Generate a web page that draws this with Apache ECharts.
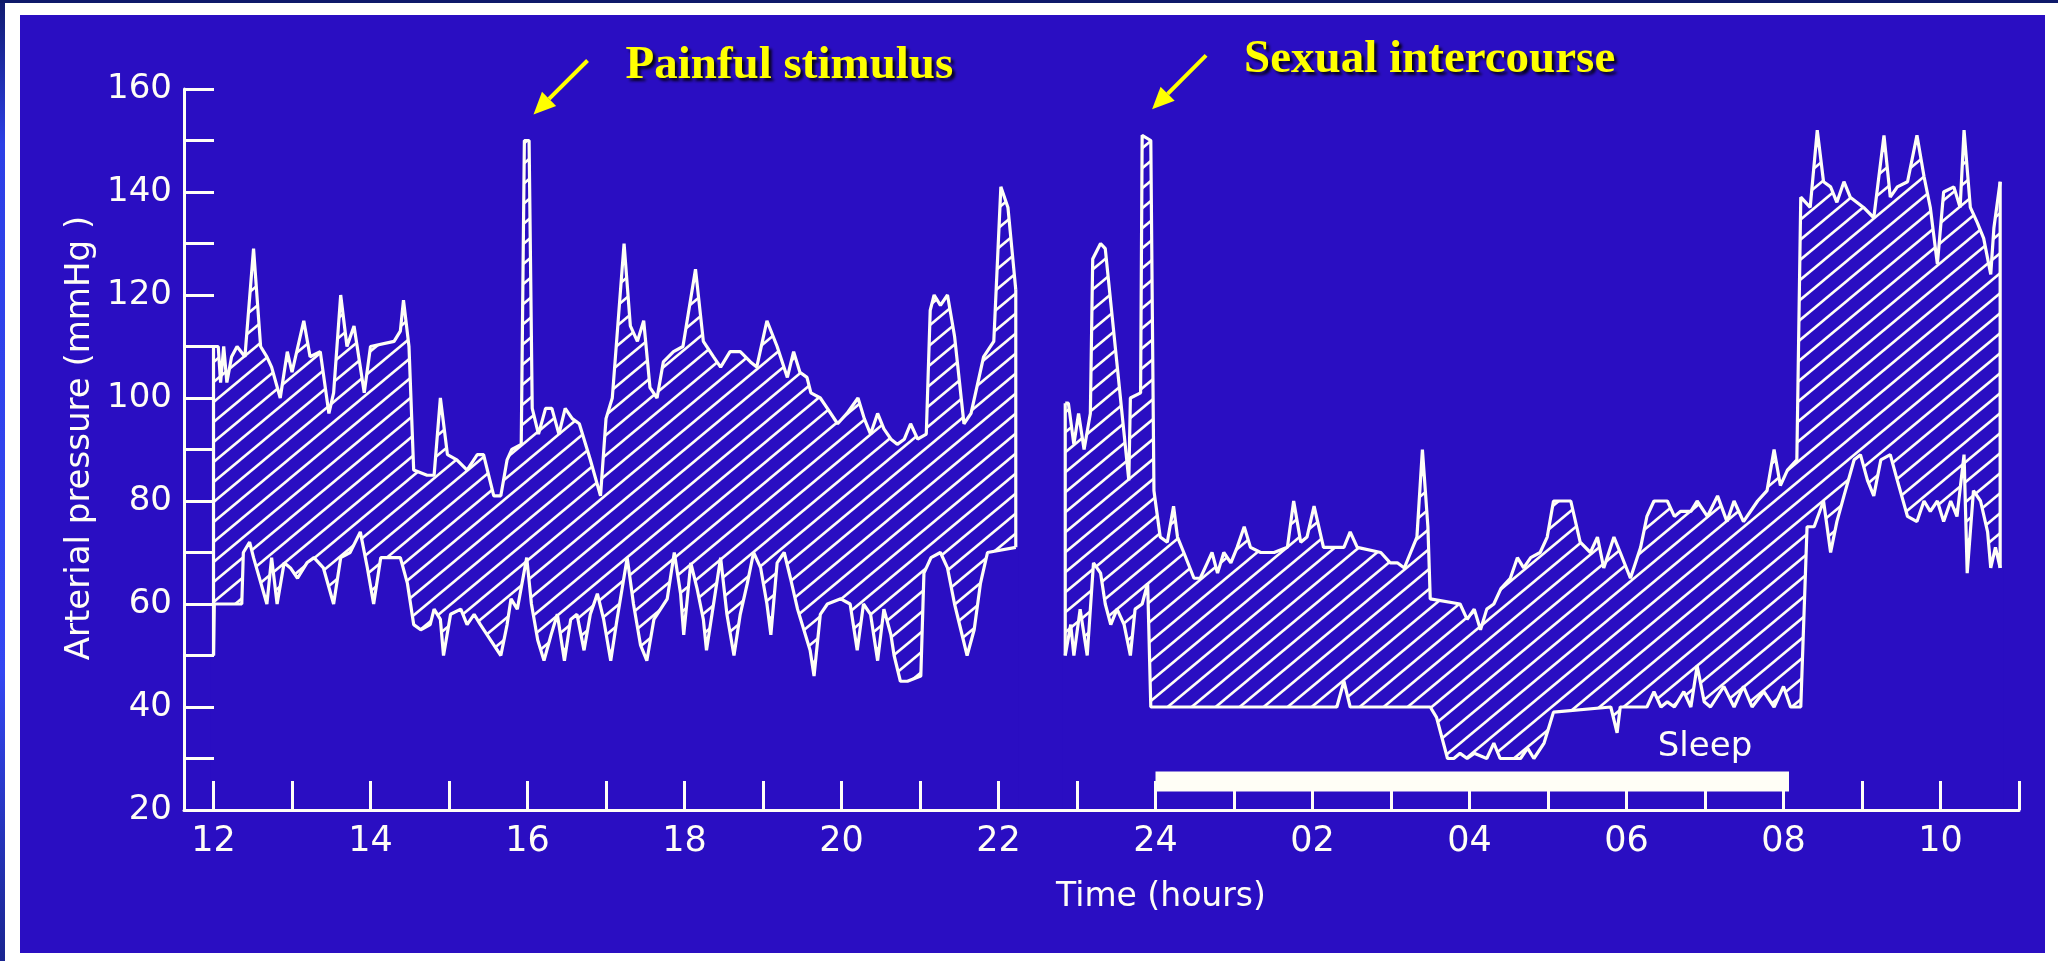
<!DOCTYPE html>
<html>
<head>
<meta charset="utf-8">
<title>Arterial pressure, 24 hour record</title>
<script src="https://cdn.jsdelivr.net/npm/echarts@6/dist/echarts.min.js"></script>
<style>
  html, body { margin: 0; padding: 0; background: #fff; }
  #chart { width: 2058px; height: 961px; }
</style>
</head>
<body>
<div id="chart"></div>
<script>
// readings are [hour, mmHg]; hours past 24 belong to the next morning
const sysDay = [
  [12.00, 110], [12.06, 110], [12.09, 103], [12.13, 110], [12.17, 103], [12.23, 108], [12.30, 110],
  [12.40, 108], [12.51, 129], [12.60, 110], [12.68, 108], [12.74, 106], [12.85, 100], [12.94, 109],
  [13.00, 105], [13.15, 115], [13.23, 108], [13.36, 109], [13.47, 97], [13.53, 101], [13.62, 120],
  [13.70, 110], [13.79, 114], [13.92, 101], [14.00, 110], [14.30, 111], [14.38, 113], [14.42, 119],
  [14.49, 110], [14.55, 86], [14.72, 85], [14.81, 85], [14.89, 100], [14.98, 89], [15.10, 88],
  [15.23, 86], [15.36, 89], [15.44, 89], [15.57, 81], [15.66, 81], [15.74, 88], [15.80, 90],
  [15.92, 91], [15.96, 150], [16.02, 150], [16.06, 98], [16.14, 93], [16.23, 98], [16.31, 98],
  [16.40, 93], [16.48, 98], [16.57, 96], [16.66, 95], [16.80, 88], [16.93, 81], [17.00, 96],
  [17.08, 100], [17.23, 130], [17.31, 114], [17.40, 111], [17.48, 115], [17.56, 102], [17.65, 100],
  [17.73, 107], [17.86, 109], [17.98, 110], [18.14, 125], [18.24, 111], [18.37, 108], [18.46, 106],
  [18.58, 109], [18.71, 109], [18.84, 107], [18.92, 106], [19.05, 115], [19.18, 110], [19.31, 104],
  [19.39, 109], [19.47, 105], [19.56, 104], [19.61, 101], [19.73, 100], [19.82, 98], [19.95, 95],
  [20.07, 97], [20.21, 100], [20.29, 96], [20.37, 93], [20.46, 97], [20.54, 94], [20.63, 92],
  [20.71, 91], [20.80, 92], [20.88, 95], [20.97, 92], [21.08, 93], [21.13, 117], [21.18, 120],
  [21.26, 118], [21.35, 120], [21.44, 112], [21.56, 95], [21.65, 97], [21.81, 108], [21.94, 111],
  [22.03, 141], [22.12, 137], [22.22, 121]
]
const diaDay = [
  [12.00, 50], [12.01, 60], [12.36, 60], [12.38, 70], [12.46, 72], [12.51, 69], [12.68, 60],
  [12.74, 69], [12.81, 60], [12.90, 68], [12.98, 67], [13.07, 65], [13.19, 68], [13.28, 69],
  [13.40, 67], [13.53, 60], [13.62, 69], [13.74, 70], [13.87, 74], [13.96, 67], [14.04, 60],
  [14.13, 69], [14.38, 69], [14.47, 64], [14.55, 56], [14.64, 55], [14.76, 56], [14.81, 59],
  [14.89, 57], [14.93, 50], [15.02, 58], [15.15, 59], [15.23, 56], [15.32, 58], [15.40, 56],
  [15.53, 53], [15.66, 50], [15.74, 56], [15.79, 61], [15.87, 59], [15.99, 69], [16.05, 60],
  [16.13, 53], [16.21, 49], [16.30, 54], [16.38, 58], [16.47, 49], [16.55, 57], [16.63, 58],
  [16.72, 51], [16.80, 58], [16.89, 62], [16.97, 57], [17.06, 49], [17.14, 57], [17.27, 69],
  [17.35, 60], [17.44, 52], [17.52, 49], [17.61, 57], [17.78, 61], [17.87, 70], [17.95, 62],
  [17.99, 54], [18.08, 68], [18.16, 63], [18.24, 57], [18.28, 51], [18.37, 60], [18.46, 69],
  [18.54, 58], [18.63, 50], [18.71, 58], [18.80, 64], [18.88, 70], [18.97, 67], [19.05, 60],
  [19.10, 54], [19.18, 68], [19.27, 70], [19.35, 65], [19.44, 59], [19.56, 53], [19.60, 51],
  [19.65, 46], [19.73, 58], [19.82, 60], [19.99, 61], [20.11, 60], [20.20, 51], [20.28, 60],
  [20.37, 58], [20.46, 49], [20.54, 59], [20.63, 54], [20.67, 50], [20.75, 45], [20.84, 45],
  [21.01, 46], [21.05, 66], [21.14, 69], [21.26, 70], [21.35, 67], [21.44, 60], [21.52, 55],
  [21.60, 50], [21.69, 55], [21.77, 64], [21.86, 70], [22.22, 71]
]
const sysNight = [
  [22.85, 99], [22.89, 99], [22.96, 91], [23.02, 97], [23.09, 90], [23.17, 97], [23.20, 127],
  [23.30, 130], [23.36, 129], [23.66, 84], [23.68, 100], [23.81, 101], [23.83, 151], [23.94, 150],
  [23.98, 82], [24.06, 73], [24.15, 72], [24.23, 79], [24.28, 73], [24.36, 70], [24.49, 65],
  [24.57, 65], [24.66, 68], [24.72, 70], [24.79, 66], [24.87, 70], [24.96, 68], [25.04, 71],
  [25.13, 75], [25.21, 71], [25.34, 70], [25.51, 70], [25.68, 71], [25.76, 80], [25.85, 72],
  [25.93, 73], [26.02, 79], [26.14, 71], [26.40, 71], [26.48, 74], [26.57, 71], [26.87, 70],
  [26.99, 68], [27.08, 68], [27.17, 67], [27.25, 70], [27.33, 73], [27.40, 90], [27.47, 75],
  [27.50, 61], [27.88, 60], [27.97, 57], [28.06, 59], [28.14, 55], [28.22, 59], [28.31, 60],
  [28.40, 63], [28.52, 65], [28.61, 69], [28.69, 67], [28.78, 69], [28.90, 70], [28.99, 73],
  [29.07, 80], [29.29, 80], [29.41, 72], [29.54, 70], [29.63, 73], [29.71, 67], [29.84, 73],
  [29.92, 70], [30.05, 65], [30.18, 71], [30.26, 77], [30.35, 80], [30.52, 80], [30.61, 77],
  [30.69, 78], [30.82, 78], [30.90, 80], [31.03, 77], [31.16, 81], [31.28, 76], [31.37, 80],
  [31.49, 76], [31.67, 80], [31.79, 82], [31.88, 90], [31.96, 83], [32.05, 86], [32.17, 88],
  [32.22, 139], [32.34, 137], [32.43, 152], [32.51, 142], [32.60, 141], [32.68, 138], [32.77, 142],
  [32.85, 139], [33.02, 137], [33.15, 135], [33.28, 151], [33.36, 139], [33.45, 141], [33.58, 142],
  [33.70, 151], [33.79, 143], [33.87, 137], [33.96, 126], [34.04, 140], [34.17, 141], [34.25, 137],
  [34.30, 152], [34.38, 137], [34.47, 134], [34.55, 131], [34.64, 124], [34.68, 133], [34.76, 142]
]
const diaNight = [
  [22.85, 50], [22.92, 56], [22.96, 50], [23.04, 59], [23.13, 50], [23.21, 68], [23.30, 66],
  [23.36, 60], [23.43, 56], [23.51, 59], [23.60, 56], [23.68, 50], [23.74, 59], [23.83, 60],
  [23.90, 64], [23.94, 40], [26.31, 40], [26.40, 45], [26.48, 40], [27.50, 40], [27.58, 38],
  [27.72, 30], [27.80, 30], [27.88, 31], [27.97, 30], [28.06, 31], [28.22, 30], [28.31, 33],
  [28.39, 30], [28.65, 30], [28.74, 32], [28.82, 30], [28.95, 33], [29.07, 39], [29.80, 40],
  [29.88, 35], [29.92, 40], [30.26, 40], [30.35, 43], [30.44, 40], [30.52, 41], [30.61, 40],
  [30.73, 43], [30.82, 40], [30.90, 48], [30.99, 41], [31.07, 40], [31.24, 44], [31.37, 40],
  [31.49, 44], [31.60, 40], [31.75, 43], [31.88, 40], [32.00, 44], [32.09, 40], [32.22, 40],
  [32.30, 75], [32.39, 75], [32.51, 80], [32.60, 70], [32.68, 76], [32.77, 81], [32.90, 88],
  [32.98, 89], [33.07, 84], [33.15, 81], [33.24, 88], [33.36, 89], [33.45, 84], [33.58, 77],
  [33.70, 76], [33.79, 80], [33.87, 78], [33.96, 80], [34.04, 76], [34.13, 80], [34.21, 77],
  [34.30, 89], [34.34, 66], [34.42, 82], [34.51, 80], [34.60, 74], [34.64, 67], [34.70, 71],
  [34.76, 67]
]

const tickHours = [12, 13, 14, 15, 16, 17, 18, 19, 20, 21, 22, 23, 24, 25, 26, 27, 28, 29, 30, 31, 32, 33, 34, 35]
const labelHours = [12, 14, 16, 18, 20, 22, 24, 26, 28, 30, 32, 34]
const hourLabels = ['12', '14', '16', '18', '20', '22', '24', '02', '04', '06', '08', '10']
const pressureLabels = [20, 40, 60, 80, 100, 120, 140, 160]

const sleepSpan = [24, 32.07]
const events = [
  { name: 'Painful stimulus', hour: 16.0, value: 150 },
  { name: 'Sexual intercourse', hour: 23.88, value: 151 }
]

const panelBlue = '#2a0ec2'
const white = '#fffef6'
const yellow = '#ffff00'
const sans = '"DejaVu Sans", sans-serif'

// diagonal hatching used between the two pressure traces
function hatch() {
  const c = document.createElement('canvas')
  c.width = 24
  c.height = 20
  const ctx = c.getContext('2d')
  ctx.strokeStyle = white
  ctx.lineWidth = 2.6
  for (let n = -1; n <= 2; n++) {
    ctx.beginPath()
    ctx.moveTo(n * 24 + 6, -5)
    ctx.lineTo(n * 24 - 30, 25)
    ctx.stroke()
  }
  return c
}
const hatchFill = { image: hatch(), repeat: 'repeat' }

function traceSeries(sys, dia) {
  const first = sys[0][0]
  const last = sys[sys.length - 1][0]
  const line = { color: white, width: 3.2 }
  // the mask reaches a little past both ends so no hatch leaks at the edges
  const mask = [[first - 0.04, dia[0][1]], ...dia, [last + 0.04, dia[dia.length - 1][1]]]
  return [
    // systolic: hatched down to the axis, the diastolic mask hides what is below it
    { type: 'line', data: sys, z: 2, showSymbol: false, lineStyle: line,
      areaStyle: { origin: 'start', color: hatchFill, opacity: 1 } },
    { type: 'line', data: mask, z: 3, showSymbol: false, lineStyle: { width: 0 },
      areaStyle: { origin: 'start', color: panelBlue, opacity: 1 } },
    { type: 'line', data: dia, z: 4, showSymbol: false, lineStyle: line },
    { type: 'line', data: [[first, dia[0][1]], [first, sys[0][1]]], z: 4, showSymbol: false, lineStyle: line },
    { type: 'line', data: [[last, dia[dia.length - 1][1]], [last, sys[sys.length - 1][1]]], z: 4, showSymbol: false, lineStyle: line }
  ]
}

const chart = echarts.init(document.getElementById('chart'))

chart.setOption({
  animation: false,
  backgroundColor: '#ffffff',
  grid: { left: 184, top: 89, width: 1835, height: 721, containLabel: false, outerBoundsMode: 'none' },
  xAxis: {
    type: 'value',
    min: 11.624,
    max: 35,
    z: 6,
    axisLine: { show: true, onZero: false, lineStyle: { color: white, width: 3 } },
    axisTick: { show: true, inside: true, length: 29, customValues: tickHours, lineStyle: { color: white, width: 3 } },
    axisLabel: {
      customValues: labelHours,
      formatter: (v) => hourLabels[labelHours.indexOf(v)],
      color: white, fontFamily: sans, fontSize: 35, margin: 14
    },
    splitLine: { show: false }
  },
  yAxis: {
    type: 'value',
    min: 20,
    max: 160,
    interval: 10,
    z: 6,
    axisLine: { show: true, lineStyle: { color: white, width: 3 } },
    axisTick: { show: true, inside: true, length: 30, lineStyle: { color: white, width: 3 } },
    axisLabel: { customValues: pressureLabels, color: white, fontFamily: sans, fontSize: 34, margin: 12 },
    splitLine: { show: false }
  },
  graphic: [
    { id: 'panel', type: 'rect', z: -2, shape: { x: 20, y: 15, width: 2025, height: 938 }, style: { fill: panelBlue } },
    { id: 'edge-left', type: 'rect', z: -2, shape: { x: 0, y: 0, width: 5, height: 961 },
      style: { fill: new echarts.graphic.LinearGradient(0, 0, 0, 1, [
        { offset: 0, color: '#101a6e' }, { offset: 0.15, color: '#2c3fe6' },
        { offset: 0.7, color: '#3346f2' }, { offset: 1, color: '#1a2590' }]) } },
    { id: 'edge-top', type: 'rect', z: -2, shape: { x: 0, y: 0, width: 2058, height: 3 }, style: { fill: '#0e196a' } },
    { id: 'x-name', type: 'text', z: 6, x: 1161, y: 897,
      style: { text: 'Time (hours)', fill: white, font: '33px ' + sans, textAlign: 'center', textVerticalAlign: 'middle' } },
    { id: 'y-name', type: 'text', z: 6, x: 80, y: 438, rotation: Math.PI / 2,
      style: { text: 'Arterial pressure (mmHg )', fill: white, font: '34px ' + sans, textAlign: 'center', textVerticalAlign: 'middle' } }
  ],
  series: [
    ...traceSeries(sysDay, diaDay),
    ...traceSeries(sysNight, diaNight),
    {
      type: 'custom',
      z: 5,
      data: [sleepSpan],
      renderItem: (params, api) => {
        const a = api.coord([api.value(0), 27.5])
        const b = api.coord([api.value(1), 23.6])
        const t = api.coord([31.0, 32.2])
        return {
          type: 'group',
          children: [
            { type: 'rect', shape: { x: a[0], y: a[1], width: b[0] - a[0], height: b[1] - a[1] }, style: { fill: white } },
            { type: 'text', x: t[0], y: t[1],
              style: { text: 'Sleep', fill: white, font: '34px ' + sans, textAlign: 'center', textVerticalAlign: 'middle' } }
          ]
        }
      }
    }
  ]
})

// yellow arrows and captions pointing at the two spikes
const notes = []
events.forEach((ev, i) => {
  const p = chart.convertToPixel({ gridIndex: 0 }, [ev.hour, ev.value])
  const tip = [p[0] + 6, p[1] - 26]
  const tail = [p[0] + 60, p[1] - 80]
  const dx = tip[0] - tail[0]
  const dy = tip[1] - tail[1]
  const len = Math.hypot(dx, dy)
  const ux = dx / len
  const uy = dy / len
  const base = [tip[0] - ux * 22, tip[1] - uy * 22]
  notes.push({ id: 'arrow-' + i, type: 'line', z: 10,
    shape: { x1: tail[0], y1: tail[1], x2: base[0], y2: base[1] }, style: { stroke: yellow, lineWidth: 4 } })
  notes.push({ id: 'head-' + i, type: 'polygon', z: 10,
    shape: { points: [tip, [base[0] - uy * 10, base[1] + ux * 10], [base[0] + uy * 10, base[1] - ux * 10]] },
    style: { fill: yellow } })
  notes.push({ id: 'note-' + i, type: 'text', z: 10, x: tail[0] + 38, y: tail[1] + 5,
    style: {
      text: ev.name, fill: yellow, font: 'bold 47px "Liberation Serif", serif',
      textVerticalAlign: 'middle',
      textShadowColor: 'rgba(0,0,0,0.85)', textShadowBlur: 3, textShadowOffsetX: 3, textShadowOffsetY: 3
    } })
})
chart.setOption({ graphic: notes })
</script>
</body>
</html>
